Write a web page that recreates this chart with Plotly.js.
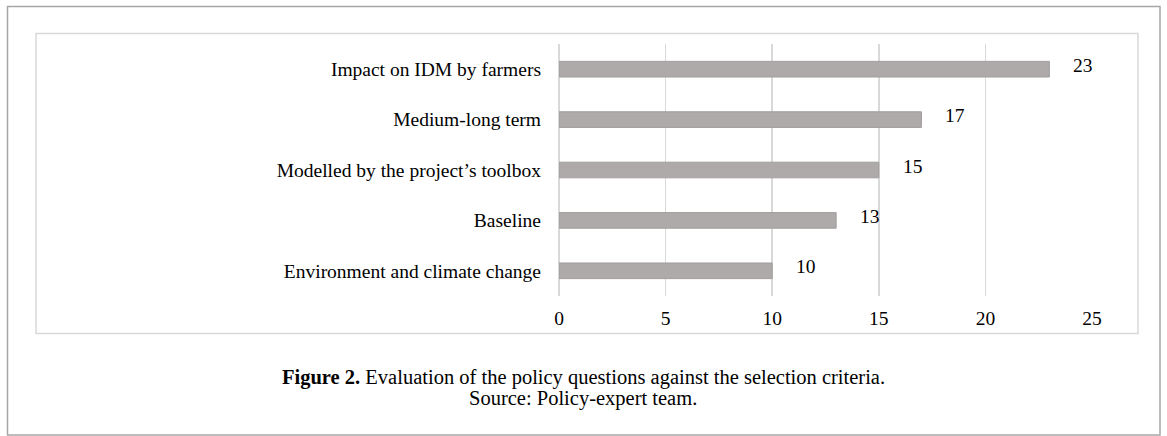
<!DOCTYPE html>
<html>
<head>
<meta charset="utf-8">
<script src="https://cdn.plot.ly/plotly-3.0.1.min.js"></script>
<style>
  html, body { margin: 0; padding: 0; background: #ffffff; }
  #chart { width: 1167px; height: 436px; }
</style>
</head>
<body>
<div id="chart"></div>
<script>
// Data (bottom to top as drawn)
const categories = [
  "Environment and climate change",
  "Baseline",
  "Modelled by the project\u2019s toolbox",
  "Medium-long term",
  "Impact on IDM by farmers"
];
const counts = [10, 13, 15, 17, 23];
const xTicks = [0, 5, 10, 15, 20, 25];
const captionBold = "Figure 2.";
const captionText = " Evaluation of the policy questions against the selection criteria.";
const captionSource = "Source: Policy-expert team.";

const W = 1167, H = 436;
const L = 559, R = 1092, T = 44, B = 296;
const pw = R - L, ph = B - T;
const px = x => (x - L) / pw;
const py = y => (B - y) / ph;

const serif = "'Liberation Serif', 'Times New Roman', serif";

const trace = {
  type: "bar",
  orientation: "h",
  x: counts,
  y: categories,
  marker: { color: "#aeaaaa", line: { color: "#a19d9d", width: 1 } },
  hoverinfo: "none"
};

const valueAnnotations = counts.map((v, i) => ({
  x: v, y: categories[i], xref: "x", yref: "y",
  text: String(v), showarrow: false,
  xanchor: "left", yanchor: "middle",
  xshift: 22, yshift: 4,
  font: { family: serif, size: 19.5, color: "#000000" }
}));

const layout = {
  width: W, height: H,
  margin: { l: L, r: W - R, t: T, b: H - B, pad: 0 },
  paper_bgcolor: "#ffffff",
  plot_bgcolor: "#ffffff",
  showlegend: false,
  bargap: 0.69,
  font: { family: serif, size: 19.5, color: "#000000" },
  xaxis: {
    range: [0, 25],
    tickvals: xTicks,
    ticktext: xTicks.map(String),
    showgrid: true, gridcolor: "#d9d9d9", gridwidth: 1.5,
    zeroline: true, zerolinecolor: "#d9d9d9", zerolinewidth: 1.5,
    showline: false, ticks: "", ticklabelstandoff: 8,
    tickfont: { family: serif, size: 19.5, color: "#000000" },
    fixedrange: true
  },
  yaxis: {
    type: "category",
    range: [-0.5, 4.5],
    showgrid: false, zeroline: false, showline: false,
    ticks: "", ticklabelstandoff: 17,
    tickfont: { family: serif, size: 19.5, color: "#000000" },
    fixedrange: true
  },
  shapes: [
    { type: "rect", xref: "paper", yref: "paper",
      x0: px(7.5), x1: px(1160), y0: py(435), y1: py(6.5),
      line: { color: "#a6a6a6", width: 1.5 }, fillcolor: "rgba(0,0,0,0)", layer: "below" },
    { type: "rect", xref: "paper", yref: "paper",
      x0: px(36), x1: px(1138), y0: py(333.5), y1: py(33.5),
      line: { color: "#d9d9d9", width: 1.5 }, fillcolor: "rgba(0,0,0,0)", layer: "below" }
  ],
  annotations: valueAnnotations.concat([
    { xref: "paper", yref: "paper", x: px(583), y: py(377),
      xanchor: "center", yanchor: "middle", showarrow: false, align: "center",
      text: "<b>" + captionBold + "</b>" + captionText,
      font: { family: serif, size: 20.5, color: "#000000" } },
    { xref: "paper", yref: "paper", x: px(583), y: py(399),
      xanchor: "center", yanchor: "middle", showarrow: false, align: "center",
      text: captionSource,
      font: { family: serif, size: 20.5, color: "#000000" } }
  ])
};

Plotly.newPlot("chart", [trace], layout, { displayModeBar: false, staticPlot: true });
</script>
</body>
</html>
